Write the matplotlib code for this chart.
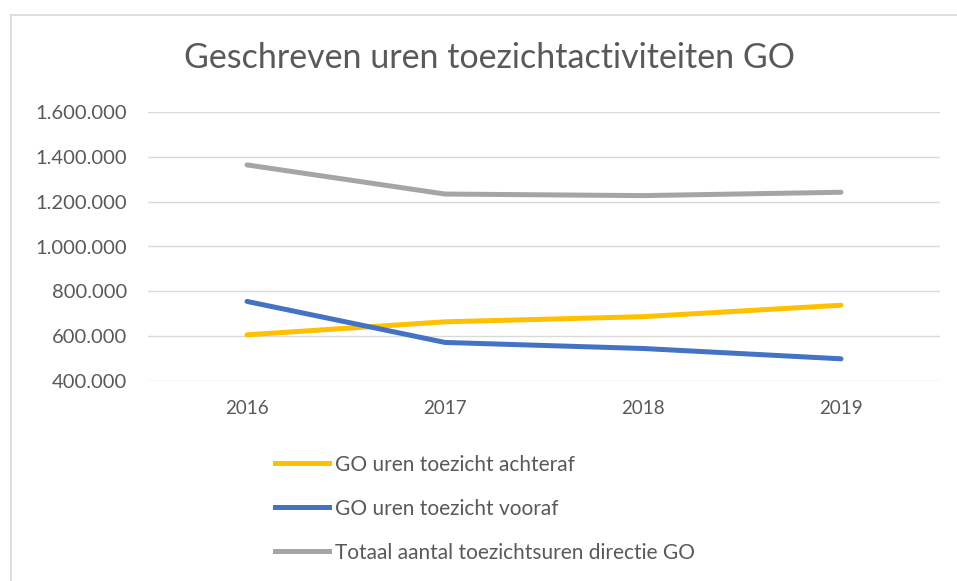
import matplotlib
matplotlib.use("Agg")
import matplotlib.pyplot as plt
from matplotlib.lines import Line2D
from matplotlib.ticker import FuncFormatter

years = ["2016", "2017", "2018", "2019"]
achteraf = [606000, 664000, 687000, 738000]
vooraf = [755000, 572000, 545000, 499000]
totaal = [1364000, 1234000, 1227000, 1242000]
labels = ["GO uren toezicht achteraf", "GO uren toezicht vooraf",
          "Totaal aantal toezichtsuren directie GO"]
colors = ["#FFC000", "#4472C4", "#A5A5A5"]
title = "Geschreven uren toezichtactiviteiten GO"

plt.rcParams['font.family'] = ['Lato', 'DejaVu Sans']
W, H = 957, 581
fig = plt.figure(figsize=(W / 100, H / 100), dpi=100)
ax = fig.add_axes([148 / W, 1 - 381 / H, (940 - 148) / W, (381 - 112) / H])

x = list(range(len(years)))
series = [achteraf, vooraf, totaal]
for s, c in zip(series, colors):
    ax.plot(x, s, color=c, lw=3.6, solid_capstyle='round', solid_joinstyle='round', zorder=3)

ax.set_xlim(-0.5, len(years) - 0.5)
ax.set_ylim(400000, 1600000)
ax.set_yticks(range(400000, 1600001, 200000))
ax.yaxis.set_major_formatter(FuncFormatter(lambda v, p: f"{int(v):,}".replace(",", ".")))
ax.set_xticks(x)
ax.set_xticklabels(years)
ax.grid(axis='y', color='#D9D9D9', lw=1)
ax.set_axisbelow(True)
for sp in ax.spines.values():
    sp.set_visible(False)
ax.tick_params(axis='both', length=0, colors='#595959')
ax.tick_params(axis='y', pad=15, labelsize=14.5)
ax.tick_params(axis='x', pad=14, labelsize=13.5)

fig.text(490 / W, 1 - 58 / H, title, ha='center', va='center', fontsize=24.5, color='#595959')

# legend
handles = [Line2D([0], [0], color=c, lw=3.6) for c in colors]
fig.legend(handles, labels, loc='upper left', bbox_to_anchor=(256 / W, 1 - 436 / H),
           frameon=False, fontsize=15, labelcolor='#595959', handlelength=2.6,
           handletextpad=0.3, labelspacing=1.15)

# chart border (left + top)
fig.add_artist(Line2D([10.5 / W, 10.5 / W], [0, 1 - 15 / H], color='#D9D9D9', lw=1.2))
fig.add_artist(Line2D([10.5 / W, 1], [1 - 15 / H, 1 - 15 / H], color='#D9D9D9', lw=1.2))

fig.savefig("out.png", dpi=100)
